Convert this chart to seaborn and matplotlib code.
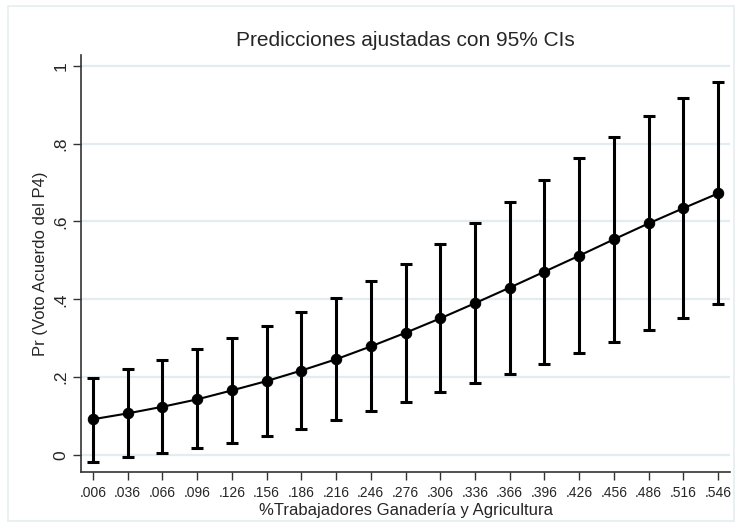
import matplotlib
matplotlib.use("Agg")
import matplotlib.pyplot as plt
import pandas as pd
import numpy as np
import seaborn as sbn

# valores
x_vals = [0.006, 0.036, 0.066, 0.096, 0.126, 0.156, 0.186, 0.216, 0.246, 0.276,
          0.306, 0.336, 0.366, 0.396, 0.426, 0.456, 0.486, 0.516, 0.546]
pred = [0.092, 0.107, 0.124, 0.143, 0.166, 0.190, 0.217, 0.246, 0.279, 0.314,
        0.351, 0.390, 0.430, 0.471, 0.512, 0.554, 0.595, 0.634, 0.672]
ci_low = [-0.018, -0.005, 0.005, 0.018, 0.032, 0.049, 0.068, 0.090, 0.112, 0.135,
          0.161, 0.185, 0.209, 0.235, 0.263, 0.290, 0.320, 0.352, 0.387]
ci_high = [0.197, 0.220, 0.245, 0.272, 0.300, 0.332, 0.367, 0.404, 0.446, 0.491,
           0.541, 0.595, 0.650, 0.707, 0.764, 0.818, 0.870, 0.918, 0.959]
x_ticklabels = [".006", ".036", ".066", ".096", ".126", ".156", ".186", ".216", ".246", ".276",
                ".306", ".336", ".366", ".396", ".426", ".456", ".486", ".516", ".546"]
y_ticks = [0, 0.2, 0.4, 0.6, 0.8, 1.0]
y_ticklabels = ["0", ".2", ".4", ".6", ".8", "1"]

dtf = pd.DataFrame({"x": x_vals, "pred": pred, "lo": ci_low, "hi": ci_high})

sbn.set_style("white")
plt.rcParams["font.family"] = ["Liberation Sans", "DejaVu Sans"]

fig = plt.figure(figsize=(7.42, 5.27), dpi=100)
ax = fig.add_axes([0.109, 0.104, 0.875, 0.792])

for yy in y_ticks:
    ax.axhline(yy, color="#e3ecef", lw=1.6, zorder=0)

ax.errorbar(dtf["x"], dtf["pred"],
            yerr=[dtf["pred"] - dtf["lo"], dtf["hi"] - dtf["pred"]],
            fmt="none", ecolor="black", elinewidth=2.2, capsize=4, capthick=2.2, zorder=2)
sbn.lineplot(x="x", y="pred", data=dtf, ax=ax, color="black", lw=1.5,
             marker="o", markersize=7.5, markeredgecolor="black", zorder=3)

ax.set_xlim(-0.0044, 0.5564)
ax.set_ylim(-0.044, 1.028)
ax.set_xticks(x_vals)
ax.set_xticklabels(x_ticklabels, fontsize=10)
ax.set_yticks(y_ticks)
ax.set_yticklabels(y_ticklabels, fontsize=12.5, rotation=90, va="center")
ax.tick_params(axis="both", length=6, width=1, color="#333333", direction="out",
               left=True, bottom=True, pad=3)
ax.tick_params(axis="x", pad=4)

for s in ["top", "right"]:
    ax.spines[s].set_visible(False)
for s in ["left", "bottom"]:
    ax.spines[s].set_color("#333333")
    ax.spines[s].set_linewidth(1.2)

ax.set_xlabel("%Trabajadores Ganadería y Agricultura", fontsize=12, labelpad=2)
ax.set_ylabel("Pr (Voto Acuerdo del P4)", fontsize=12, labelpad=4)
ax.set_title("Predicciones ajustadas con 95% CIs", fontsize=15, pad=6)

fig.patches.append(plt.Rectangle((0.011, 0.012), 0.978, 0.976, transform=fig.transFigure,
                                 fill=False, edgecolor="#e6eef0", lw=1.2))

plt.savefig("out.png", dpi=100)
